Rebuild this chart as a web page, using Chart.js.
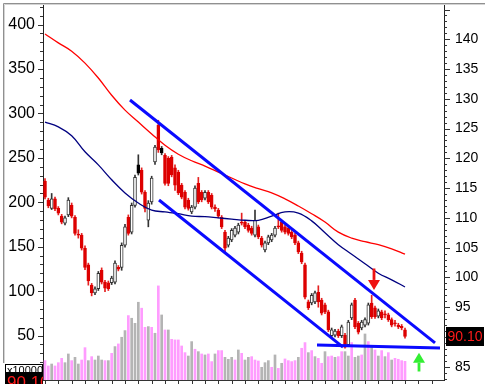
<!DOCTYPE html>
<html>
<head>
<meta charset="utf-8">
<script src="https://cdn.jsdelivr.net/npm/chart.js@4.4.0/dist/chart.umd.min.js"></script>
<style>
  html, body { margin: 0; padding: 0; background: #fff; }
</style>
</head>
<body>
<canvas id="stockChart" width="485" height="384"></canvas>
<script>
// daily candles (price, right axis)
const openP = [116.2,113.0,111.6,113.2,111.6,110.3,109.1,110.5,112.1,110.1,
  107.3,107.1,104.9,102.1,98.7,97.4,98.1,101.2,99.2,99.1,
  99.1,99.2,101.7,101.7,105.4,110.1,107.6,112.1,118.9,118.0,
  114.3,109.6,112.7,119.4,125.6,121.7,120.5,120.0,120.2,118.4,
  117.7,115.5,114.3,113.0,111.0,111.8,115.8,114.3,113.3,114.3,
  113.8,111.8,111.3,110.1,107.6,105.4,106.3,107.1,107.6,109.3,
  109.3,108.8,108.3,107.1,108.5,106.6,104.6,105.8,106.3,107.1,
  108.6,109.3,108.5,108.3,107.6,107.1,105.8,104.1,102.1,95.9,
  95.7,95.9,97.5,96.2,95.4,94.2,90.2,90.3,91.0,90.2,
  90.3,88.7,93.2,96.2,92.3,91.5,92.0,92.3,95.7,94.9,
  93.5,94.2,93.8,93.7,92.9,92.3,92.0,91.8,91.2];
const highP = [116.6,113.3,114.1,113.5,111.9,110.6,110.3,113.4,112.5,110.4,
  108.0,107.4,105.3,102.4,99.0,98.4,101.0,101.6,99.5,99.4,
  100.2,102.8,102.0,105.8,108.9,110.5,112.5,117.2,120.6,118.4,
  114.6,112.9,117.0,122.2,126.4,122.0,120.8,120.3,120.5,118.9,
  118.0,115.8,114.6,113.3,112.1,115.4,116.8,114.6,114.6,114.6,
  114.1,112.2,111.6,110.4,107.9,106.9,108.2,108.6,109.1,110.8,
  109.6,109.1,108.6,111.3,108.8,106.9,106.1,107.1,107.4,108.6,
  110.8,109.6,108.8,108.6,107.9,107.4,106.1,104.4,102.4,96.2,
  97.3,97.7,98.6,96.5,95.7,94.5,91.5,91.3,91.3,92.0,
  90.6,92.8,95.7,96.5,92.6,92.8,93.2,95.7,97.0,95.2,
  94.7,94.5,94.4,94.0,93.2,92.8,92.3,92.1,91.5];
const lowP = [113.2,111.7,111.4,111.2,110.5,109.0,108.8,110.2,110.0,107.1,
  106.6,104.6,101.3,98.7,96.9,97.1,97.8,98.9,97.6,97.8,
  98.8,98.9,101.1,101.2,105.1,107.1,107.3,111.8,117.2,114.0,
  111.0,108.5,112.3,119.0,121.0,120.6,115.5,115.4,116.9,114.6,
  113.9,113.2,111.5,111.3,110.7,111.5,112.4,112.7,113.0,112.4,
  111.5,111.1,110.0,108.2,104.3,105.1,106.0,106.8,107.3,108.8,
  108.2,107.6,107.1,106.8,106.5,105.1,104.3,105.5,106.0,106.8,
  108.2,107.6,107.3,107.1,106.5,105.5,104.0,102.3,96.4,94.6,
  95.4,95.6,95.0,93.7,93.9,90.9,89.9,90.0,89.9,89.9,
  88.1,88.4,92.9,91.4,90.5,91.2,91.7,92.0,93.1,93.1,
  93.2,92.9,93.2,92.6,91.7,91.8,91.4,91.2,89.8];
const closeP = [113.5,112.0,113.2,111.5,110.8,109.3,110.0,113.0,110.3,107.4,
  107.1,104.9,101.7,99.4,97.4,98.1,100.7,99.2,98.2,98.1,
  99.9,102.4,101.4,105.4,108.5,107.4,112.1,116.8,117.5,114.3,
  111.6,112.5,116.7,121.9,121.4,120.9,115.8,115.8,117.2,115.5,
  114.2,113.5,111.8,111.6,111.8,115.0,112.7,113.0,114.3,112.7,
  111.8,111.5,110.3,108.5,104.9,106.6,107.9,108.3,108.8,109.1,
  108.5,107.9,107.4,109.6,106.8,105.4,105.8,106.8,107.1,108.3,
  108.5,107.9,107.6,107.4,106.8,105.8,104.3,102.6,96.7,94.9,
  97.0,97.4,95.9,94.0,94.2,91.2,91.2,91.0,90.2,91.7,
  88.3,92.5,95.4,91.7,90.8,92.5,92.9,95.4,93.4,93.4,
  94.4,93.2,93.7,92.9,92.0,92.2,91.7,91.5,90.1];
// r = red (down), w = hollow (up), b = black body
const candleKind = ('rrwrrrwwrr' + 'rrrrrwwrrr' + 'wwrwwrwwbr' + 'rwwwrbrrrr' + 'rrrrwwrrwr' +
  'rrrrrwwwwr' + 'rrrwrrwwww' + 'rrrrrrrrrr' + 'wwrrrrwwrw' + 'rwwrrwwwrr' + 'wrrrrrrrr').split('');

// volume (x10000, left axis), p = pink, g = gray
const volume = [21.8,15.8,18.0,15.8,19.5,24.4,19.5,29.3,21.8,25.5,
  18.0,22.5,36.4,21.8,26.3,22.5,27.0,22.5,21.8,21.8,
  30.0,37.6,40.6,48.1,55.6,72.5,69.5,63.8,87.5,80.8,
  59.3,60.1,59.3,52.6,105.9,73.2,56.3,56.3,45.8,45.1,
  45.1,38.3,30.8,27.0,43.2,34.6,31.9,29.3,28.2,29.3,
  20.7,29.3,33.1,33.1,25.5,23.3,25.5,22.5,33.8,30.0,
  22.5,25.5,26.3,22.5,21.4,14.3,19.5,21.8,14.3,28.2,
  13.1,18.8,23.7,21.8,20.7,21.8,25.5,35.7,42.1,30.8,
  33.1,26.3,24.4,18.8,31.9,26.3,27.0,25.5,26.3,31.9,
  31.9,27.0,42.1,25.5,27.0,28.2,51.8,43.2,37.6,33.8,
  27.0,33.1,26.3,30.8,22.5,24.4,23.3,21.8,21.0];
const volumeKind = ('ppgpppggpg' + 'gppgpgggpg' + 'pgpggpgggp' + 'pgpgpgpgpp' + 'pppggpgpgp' +
  'pgppgggpgp' + 'ggpppgggpg' + 'pgppppgppg' + 'pgppgppgpp' + 'ggpggpgpgp' + 'gpgpgpppp').split('');

// moving averages, read every 4th day
const maDays = [0,4,8,12,16,20,24,28,32,36,40,44,48,52,56,60,64,68,72,76,80,84,88,92,96,100,104,108];
const maLong = [140.9,139.4,138.0,136.0,133.5,130.6,128.1,126.1,124.1,122.2,120.7,119.6,118.7,117.7,
  116.7,115.7,114.9,114.2,113.2,112.0,110.7,109.3,107.6,106.6,106.0,105.5,104.8,103.9];
const maShort = [126.1,125.3,123.8,121.1,118.9,116.4,114.2,112.5,111.3,111.0,110.7,110.3,110.2,110.0,
  109.8,109.6,109.6,110.3,111.0,110.8,109.5,107.5,105.5,103.9,102.3,100.7,99.6,98.4];

// hand-drawn trend lines [day, price]
const trendUpper = [[25.5, 129.8], [117.0, 89.0]];
const trendLower = [[34.2, 113.0], [89.4, 88.3]];
const trendFloor = [[81.6, 88.65], [118.5, 88.14]];

// arrows [day, tail price, tip price]
const sellArrow = [98.7, 101.5, 97.9];
const buyArrow = [112.2, 84.2, 87.35];

const lastClose = closeP[closeP.length - 1];

const candleBody = [];
const candleWick = [];
const volBars = [];
openP.forEach((o, i) => {
  candleBody.push({ x: i, y: [o, closeP[i]] });
  candleWick.push({ x: i, y: [lowP[i], highP[i]] });
  volBars.push({ x: i, y: volume[i] });
});
const toPoints = (days, vals) => days.map((d, i) => ({ x: d, y: vals[i] }));
const pairPoints = (pairs) => pairs.map(p => ({ x: p[0], y: p[1] }));

const bodyFill = candleKind.map(k => k === 'r' ? '#dd0000' : (k === 'b' ? '#000000' : '#ffffff'));
const bodyLine = candleKind.map(k => k === 'r' ? '#dd0000' : (k === 'b' ? '#000000' : '#333333'));
const wickColor = candleKind.map(k => k === 'r' ? '#e52020' : '#333333');
const volColor = volumeKind.map(k => k === 'p' ? '#ff9cff' : '#b4b4b4');

// fixed axis widths, no label overhang padding
const fixAxis = (w) => (scale) => {
  scale.width = w;
  scale.paddingTop = 0;
  scale.paddingBottom = 0;
};

// ticks, frame, arrows and price boxes
const decor = {
  id: 'decor',
  afterDraw(chart) {
    const ctx = chart.ctx;
    const a = chart.chartArea;
    const xs = chart.scales.x, yL = chart.scales.yL, yR = chart.scales.yR;
    ctx.save();

    ctx.strokeStyle = '#333';
    ctx.lineWidth = 1;
    ctx.beginPath();
    for (let v = 10; v <= yL.max; v += 10) {
      const y = Math.round(yL.getPixelForValue(v)) + 0.5;
      const len = v % 50 === 0 ? 5 : 3;
      ctx.moveTo(a.left - len, y);
      ctx.lineTo(a.left, y);
    }
    for (let v = Math.ceil(yR.min); v <= yR.max; v++) {
      const y = Math.round(yR.getPixelForValue(v)) + 0.5;
      const len = v % 5 === 0 ? 6 : 3;
      ctx.moveTo(a.right, y);
      ctx.lineTo(a.right + len, y);
    }
    for (let d = 0; d <= xs.max; d += 4) {
      const x = Math.round(xs.getPixelForValue(d)) + 0.5;
      ctx.moveTo(x, a.bottom);
      ctx.lineTo(x, a.bottom + 4);
    }
    ctx.moveTo(a.left, a.bottom + 0.5);
    ctx.lineTo(a.right, a.bottom + 0.5);
    ctx.stroke();

    // panel frame
    ctx.strokeStyle = '#909090';
    ctx.beginPath();
    ctx.moveTo(3.5, 363);
    ctx.lineTo(3.5, 3.5);
    ctx.lineTo(485, 3.5);
    ctx.stroke();
    ctx.strokeStyle = '#d4d4d4';
    ctx.beginPath();
    ctx.moveTo(4.5, 363);
    ctx.lineTo(4.5, 4.5);
    ctx.lineTo(485, 4.5);
    ctx.stroke();

    // arrows
    const drawArrow = (arr, color, down) => {
      const x = xs.getPixelForValue(arr[0]);
      const y0 = yR.getPixelForValue(arr[1]);
      const y1 = yR.getPixelForValue(arr[2]);
      const head = 10;
      const hb = down ? y1 - head : y1 + head;
      ctx.fillStyle = color;
      ctx.fillRect(x - 1.4, Math.min(y0, hb), 2.8, Math.abs(hb - y0));
      ctx.beginPath();
      ctx.moveTo(x - 6, hb);
      ctx.lineTo(x + 6, hb);
      ctx.lineTo(x, y1);
      ctx.closePath();
      ctx.fill();
    };
    drawArrow(sellArrow, '#ee1111', true);
    drawArrow(buyArrow, '#33ee33', false);

    // last price box on the right
    const yc = yR.getPixelForValue(lastClose);
    ctx.fillStyle = '#000';
    ctx.fillRect(446, Math.round(yc) - 9, 38, 19);
    ctx.fillStyle = '#ff1a1a';
    ctx.font = '14px "Liberation Sans", Arial, sans-serif';
    ctx.textAlign = 'center';
    ctx.textBaseline = 'middle';
    ctx.fillText(lastClose.toFixed(2), 465, Math.round(yc) + 1);

    // volume unit box and clipped price box, bottom left
    ctx.fillStyle = '#fff';
    ctx.fillRect(5, 364, 38, 8);
    ctx.strokeStyle = '#000';
    ctx.strokeRect(5.5, 364.5, 37, 8);
    ctx.save();
    ctx.beginPath();
    ctx.rect(6, 365, 36, 7);
    ctx.clip();
    ctx.fillStyle = '#000';
    ctx.font = '11px "Liberation Sans", Arial, sans-serif';
    ctx.textAlign = 'left';
    ctx.textBaseline = 'alphabetic';
    ctx.fillText('x10000', 7, 374);
    ctx.restore();
    ctx.fillStyle = '#000';
    ctx.fillRect(5, 372, 38, 12);
    ctx.save();
    ctx.beginPath();
    ctx.rect(5, 372, 38, 12);
    ctx.clip();
    ctx.fillStyle = '#ff1a1a';
    ctx.font = '17px "Liberation Sans", Arial, sans-serif';
    ctx.textAlign = 'left';
    ctx.textBaseline = 'top';
    ctx.fillText(lastClose.toFixed(2), 7, 375);
    ctx.restore();

    ctx.restore();
  }
};

Chart.defaults.font.family = '"Liberation Sans", Arial, sans-serif';
Chart.defaults.color = '#000';

new Chart(document.getElementById('stockChart').getContext('2d'), {
  type: 'bar',
  data: {
    datasets: [
      {
        type: 'line', data: pairPoints(trendUpper), yAxisID: 'yR',
        borderColor: '#0a0aff', borderWidth: 3, pointRadius: 0, order: 1
      },
      {
        type: 'line', data: pairPoints(trendLower), yAxisID: 'yR',
        borderColor: '#0a0aff', borderWidth: 3, pointRadius: 0, order: 1
      },
      {
        type: 'line', data: pairPoints(trendFloor), yAxisID: 'yR',
        borderColor: '#0a0aff', borderWidth: 3, pointRadius: 0, order: 1
      },
      {
        type: 'line', data: toPoints(maDays, maLong), yAxisID: 'yR',
        borderColor: '#ff0000', borderWidth: 1.3, pointRadius: 0, tension: 0.4, order: 2
      },
      {
        type: 'line', data: toPoints(maDays, maShort), yAxisID: 'yR',
        borderColor: '#000080', borderWidth: 1.3, pointRadius: 0, tension: 0.4, order: 2
      },
      {
        data: candleBody, yAxisID: 'yR', grouped: false, barThickness: 3, minBarLength: 1,
        backgroundColor: bodyFill, borderColor: bodyLine, borderWidth: 1, borderSkipped: false, order: 3
      },
      {
        data: candleWick, yAxisID: 'yR', grouped: false, barThickness: 1,
        backgroundColor: wickColor, borderWidth: 0, order: 4
      },
      {
        data: volBars, yAxisID: 'yL', grouped: false, barThickness: 2,
        backgroundColor: volColor, borderWidth: 0, order: 5
      }
    ]
  },
  options: {
    responsive: false,
    animation: false,
    devicePixelRatio: 1,
    layout: { autoPadding: false, padding: { top: 5, bottom: 4, left: 0, right: 0 } },
    plugins: { legend: { display: false }, tooltip: { enabled: false } },
    scales: {
      x: {
        type: 'linear', display: false, min: -0.6, max: 119.7, offset: false,
        grid: { display: false, offset: false }
      },
      yL: {
        type: 'linear', position: 'left', min: 0, max: 422.0, beginAtZero: false,
        afterFit: fixAxis(43),
        grid: { display: false, drawTicks: false },
        border: { display: true, color: '#222', width: 1 },
        ticks: {
          stepSize: 50, autoSkip: false, includeBounds: false, padding: 8,
          font: { size: 16 },
          callback: (v) => (v > 0 && v <= 400) ? String(v) : ''
        }
      },
      yR: {
        type: 'linear', position: 'right', min: 82.77, max: 145.76, beginAtZero: false,
        afterFit: fixAxis(41),
        grid: { display: false, drawTicks: false },
        border: { display: true, color: '#222', width: 1 },
        ticks: {
          stepSize: 5, autoSkip: false, includeBounds: false, padding: 11,
          font: { size: 14 },
          callback: (v) => (v >= 85 && v <= 140) ? String(v) : ''
        }
      }
    }
  },
  plugins: [decor]
});
</script>
</body>
</html>
